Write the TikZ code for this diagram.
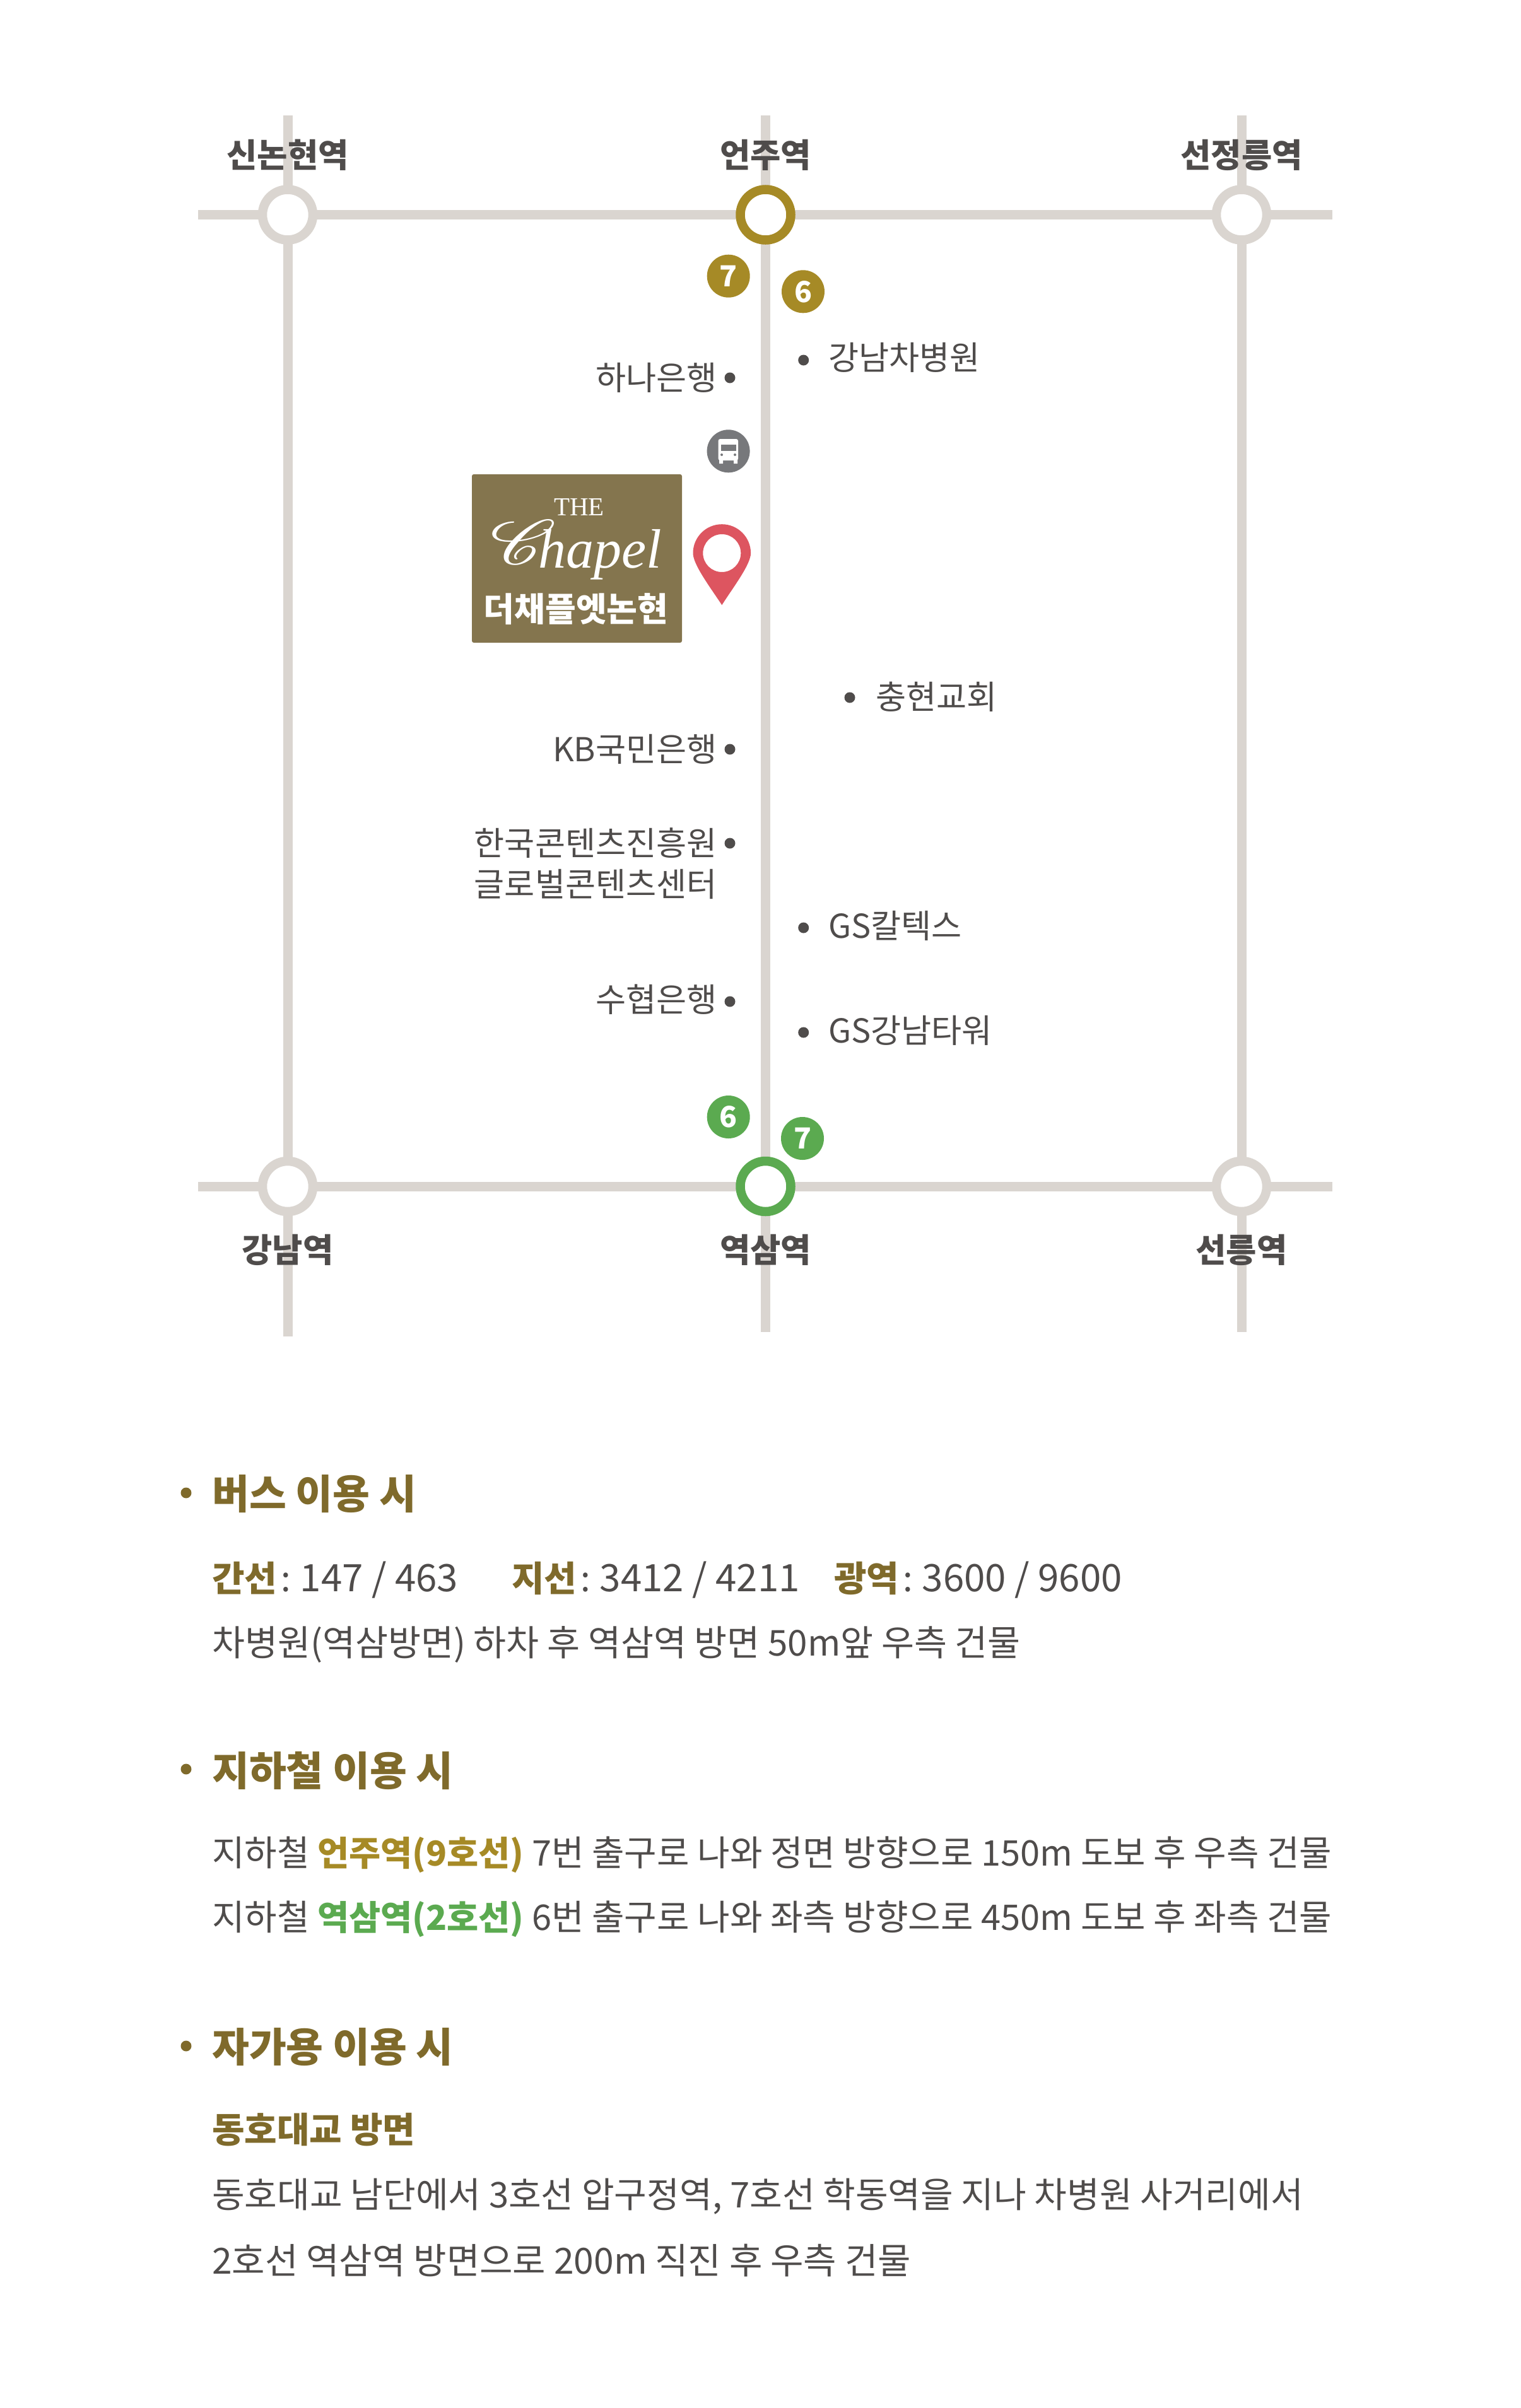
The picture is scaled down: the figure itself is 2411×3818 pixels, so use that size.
\documentclass[tikz,border=0pt]{standalone}
\usepackage{fontspec}
\usepackage{mathrsfs}
\usetikzlibrary{backgrounds}
\setmainfont{Noto Sans CJK KR}
\newfontfamily\logofont{Liberation Serif}
\newcommand{\fs}[1]{\fontsize{#1}{#1}\selectfont}
\definecolor{roadc}{HTML}{DAD5D0}
\definecolor{goldc}{HTML}{A68A26}
\definecolor{greenc}{HTML}{5BAA50}
\definecolor{brownc}{HTML}{7F6A2B}
\definecolor{logoc}{HTML}{84754E}
\definecolor{textc}{HTML}{4F4C4B}
\definecolor{busc}{HTML}{77787B}
\definecolor{pinc}{HTML}{DD5560}

\begin{document}
\begin{tikzpicture}[
  x=1pt, y=-1pt,
  road/.style={draw=roadc, line width=15pt},
  stn/.style={circle, draw=roadc, fill=white, line width=14.5pt, minimum size=80pt, inner sep=0pt},
  stnname/.style={text=textc, font=\fs{52.5}\bfseries, inner sep=0pt},
  exitno/.style={circle, minimum size=68pt, inner sep=0pt, text=white, font=\fs{46}\bfseries},
  dotp/.style={circle, fill=textc, minimum size=17pt, inner sep=0pt},
  poi/.style={text=textc, font=\fs{52.3}, inner sep=0pt},
  head/.style={text=brownc, font=\fs{64}\bfseries, anchor=west, inner sep=0pt},
  body/.style={text=textc, font=\fs{56}, anchor=west, inner sep=0pt},
  sub/.style={text=brownc, font=\fs{56}\bfseries, anchor=west, inner sep=0pt},
  headdot/.style={circle, fill=brownc, minimum size=17pt, inner sep=0pt},
]
\useasboundingbox (0,0) rectangle (2411,3818);

% ---- road ends ----
\coordinate (w1) at (314,340.5);  \coordinate (e1) at (2112,340.5);
\coordinate (w2) at (314,1881);   \coordinate (e2) at (2112,1881);
\coordinate (n1) at (456,183);    \coordinate (s1) at (456,2119);
\coordinate (n2) at (1213.5,183); \coordinate (s2) at (1213.5,2112);
\coordinate (n3) at (1968,183);   \coordinate (s3) at (1968,2112);

% ---- stations ----
\node[stn] (sinnonhyeon) at (456,340.5) {};
\node[stn,draw=goldc] (eonju) at (1213.5,340.5) {};
\node[stn] (seonjeongneung) at (1968,340.5) {};
\node[stn] (gangnam) at (456,1881) {};
\node[stn,draw=greenc] (yeoksam) at (1213.5,1881) {};
\node[stn] (seolleung) at (1968,1881) {};

\begin{scope}[on background layer]
  \draw[road] (w1) -- (e1);
  \draw[road] (w2) -- (e2);
  \draw[road] (n1) -- (s1);
  \draw[road] (n2) -- (s2);
  \draw[road] (n3) -- (s3);
\end{scope}

\node[stnname] (l1) at (456,246) {신논현역};
\node[stnname] (l2) at (1213.5,246) {언주역};
\node[stnname] (l3) at (1968,246) {선정릉역};
\node[stnname] (l4) at (456,1982) {강남역};
\node[stnname] (l5) at (1213.5,1982) {역삼역};
\node[stnname] (l6) at (1968,1982) {선릉역};

% ---- exits ----
\node[exitno,fill=goldc] (x7a) at (1154.7,437.7) {7};
\node[exitno,fill=goldc] (x6a) at (1273,462.3) {6};
\node[exitno,fill=greenc] (x6b) at (1154.7,1771) {6};
\node[exitno,fill=greenc] (x7b) at (1272,1805) {7};

% ---- places ----
\foreach \n/\x/\y in {a/1273.7/571,b/1157/599,c/1347/1106,d/1157/1188,e/1157/1337,f/1273.7/1471,g/1157/1588,h/1273.7/1637}
  \node[dotp] (dot\n) at (\x,\y) {};
\node[poi,anchor=west] (p1) at (1313,567) {강남차병원};
\node[poi,anchor=east] (p2) at (1137,599) {하나은행};
\node[poi,anchor=west] (p3) at (1388,1105) {충현교회};
\node[poi,anchor=east] (p4) at (1137,1188) {KB국민은행};
\node[poi,anchor=east] (p5) at (1137,1337) {한국콘텐츠진흥원};
\node[poi,anchor=east] (p6) at (1137,1402) {글로벌콘텐츠센터};
\node[poi,anchor=west] (p7) at (1313,1468) {GS칼텍스};
\node[poi,anchor=east] (p8) at (1137,1585) {수협은행};
\node[poi,anchor=west] (p9) at (1313,1634) {GS강남타워};

% ---- bus ----
\node[circle,fill=busc,minimum size=68pt,inner sep=0pt] (bus) at (1154.6,715.3) {};
\fill[white,rounded corners=3pt] (1138.6,696) rectangle (1170,730);
\fill[white] (1140,728) rectangle (1146,735) (1163,728) rectangle (1169,735);
\fill[busc] (1143,705) rectangle (1167,714.5);
\fill[busc] (1144,721) circle (2pt) (1165,721) circle (2pt);

% ---- logo ----
\node[fill=logoc,rounded corners=3pt,minimum width=333pt,minimum height=267pt,inner sep=0pt] (logo) at (914.5,885.5) {};
\node[text=white,font=\logofont\fs{41},inner sep=0pt] (the) at (918,804) {THE};
\node[text=white,font=\logofont\fs{88}\itshape,anchor=base west,inner sep=0pt] (chapel) at (777,900) {\makebox[76pt][l]{\raisebox{6pt}{\scalebox{5}[4]{$\mathscr{C}$}}}hapel};
\node[text=white,font=\fs{53}\bfseries,inner sep=0pt] (logokr) at (913,966) {더채플엣논현};

% ---- pin ----
\fill[pinc,even odd rule] (1144.3,959.3) .. controls (1125,930) and (1098.5,895) .. (1098.5,877)
  arc[start angle=180,end angle=360,radius=45.8] .. controls (1190,895) and (1163,930) .. (1144.3,959.3) -- cycle
  (1144.3,877) circle (30);

% ---- directions ----
\node[headdot] (b1) at (295,2367) {};
\node[head] (busH) at (336,2369) {버스 이용 시};
\node[body] (busA) at (336,2505) {\textcolor{brownc}{\bfseries 간선}\kern6pt:\kern15pt\fs{60}147 / 463};
\node[body] (busB) at (811,2505) {\textcolor{brownc}{\bfseries 지선}\kern6pt:\kern15pt\fs{60}3412 / 4211};
\node[body] (busC) at (1322,2505) {\textcolor{brownc}{\bfseries 광역}\kern6pt:\kern15pt\fs{60}3600 / 9600};
\node[body,font=\fs{56.5}] (busD) at (336,2607) {차병원(역삼방면) 하차 후 역삼역 방면 50m앞 우측 건물};

\node[headdot] (b2) at (295,2805) {};
\node[head] (subH) at (336,2807) {지하철 이용 시};
\node[body] (subA) at (336,2941) {지하철 \textcolor{goldc}{\fs{54.5}\bfseries 언주역(9호선)} 7번 출구로 나와 정면 방향으로 150m 도보 후 우측 건물};
\node[body] (subB) at (336,3043) {지하철 \textcolor{greenc}{\fs{54.5}\bfseries 역삼역(2호선)} 6번 출구로 나와 좌측 방향으로 450m 도보 후 좌측 건물};

\node[headdot] (b3) at (295,3244) {};
\node[head] (carH) at (336,3246) {자가용 이용 시};
\node[sub] (carS) at (336,3377) {동호대교 방면};
\node[body,font=\fs{56.2}] (carA) at (336,3482) {동호대교 남단에서 3호선 압구정역, 7호선 학동역을 지나 차병원 사거리에서};
\node[body,font=\fs{57}] (carB) at (336,3584) {2호선 역삼역 방면으로 200m 직진 후 우측 건물};
\end{tikzpicture}
\end{document}
